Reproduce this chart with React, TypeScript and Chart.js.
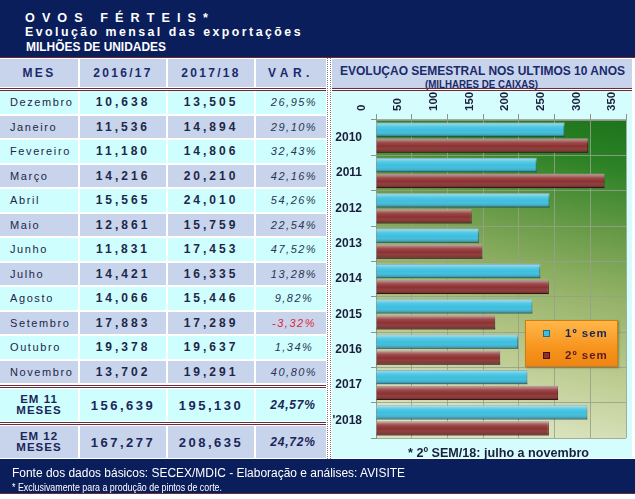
import React, { useEffect, useLayoutEffect, useRef } from "react";
import { Chart, registerables } from "chart.js";
Chart.register(...registerables);

// ---- data ----
const years = ["2010", "2011", "2012", "2013", "2014", "2015", "2016", "2017", "'2018"];
const sem1 = [264, 225, 243, 144, 230, 219, 199, 212, 296];
const sem2 = [297, 320, 134, 149, 242, 167, 174, 255, 242];
const xMin = 0;
const xMax = 350;
const xStep = 50;

const months = ["Dezembro", "Janeiro", "Fevereiro", "Março", "Abril", "Maio", "Junho", "Julho", "Agosto", "Setembro", "Outubro", "Novembro"];
const v1617 = [10.638, 11.536, 11.18, 14.216, 15.565, 12.861, 11.831, 14.421, 14.066, 17.883, 19.378, 13.702];
const v1718 = [13.505, 14.894, 14.806, 20.21, 24.01, 15.759, 17.453, 16.335, 15.446, 17.289, 19.637, 19.291];
const varPct = [26.95, 29.1, 32.43, 42.16, 54.26, 22.54, 47.52, 13.28, 9.82, -3.32, 1.34, 40.8];
const total11 = [156.639, 195.13, 24.57];
const total12 = [167.277, 208.635, 24.72];
const colHeaders = ["MES", "2016/17", "2017/18", "VAR."];

const SANS = '"Liberation Sans", Arial, sans-serif';
const NAVY = "#0b1e5c";
const CYAN = "#cffefe";
const LAV = "#c7d4ec";
const TXT = "#1d2748";
const MAROON = "#6e2a36";

const fmt3 = (v: number) => v.toFixed(3).replace(".", ",");
const fmtPct = (v: number) => v.toFixed(2).replace(".", ",") + "%";

const cols = [
  { x: 0, w: 78 },
  { x: 80, w: 86 },
  { x: 168, w: 86 },
  { x: 256, w: 70 },
];

function abs(x: number, y: number, w: number, h: number, extra: React.CSSProperties = {}): React.CSSProperties {
  return { position: "absolute", left: x, top: y, width: w, height: h, ...extra };
}

// text squeezed horizontally to a target width (narrow fonts are not installed)
function FitText({ left, top, width, style, children }: { left: number; top: number; width: number; style: React.CSSProperties; children: React.ReactNode }) {
  const ref = useRef<HTMLSpanElement>(null);
  useLayoutEffect(() => {
    const el = ref.current!;
    el.style.transform = "none";
    const w = el.getBoundingClientRect().width;
    if (w > 0) el.style.transform = `scaleX(${width / w})`;
  }, [width]);
  return (
    <div style={{ position: "absolute", left, top, whiteSpace: "nowrap" }}>
      <span ref={ref} style={{ display: "inline-block", transformOrigin: "left top", ...style }}>
        {children}
      </span>
    </div>
  );
}

function DoubleLine({ x, y, w }: { x: number; y: number; w: number }) {
  return (
    <>
      <div style={abs(x, y, w, 1, { background: MAROON })} />
      <div style={abs(x, y + 2, w, 1, { background: MAROON })} />
    </>
  );
}

function ChartPanel() {
  const ref = useRef<HTMLCanvasElement>(null);
  useEffect(() => {
    const canvas = ref.current!;
    const bgPlugin = {
      id: "plotBg",
      beforeDraw(chart: any) {
        const { ctx, chartArea: a } = chart;
        const g = ctx.createLinearGradient(a.right, a.top, a.right - 70, a.bottom);
        g.addColorStop(0, "#1d741b");
        g.addColorStop(0.15, "#2d8226");
        g.addColorStop(0.35, "#679a46");
        g.addColorStop(0.55, "#95b368");
        g.addColorStop(0.78, "#bccb90");
        g.addColorStop(1, "#dbe3be");
        ctx.save();
        ctx.fillStyle = g;
        ctx.fillRect(a.left, a.top, a.right - a.left, a.bottom - a.top);
        ctx.restore();
      },
    };
    const shinePlugin = {
      id: "barShine",
      afterDatasetsDraw(chart: any) {
        const ctx = chart.ctx;
        ctx.save();
        chart.data.datasets.forEach((_ds: any, di: number) => {
          const meta = chart.getDatasetMeta(di);
          meta.data.forEach((el: any) => {
            const { x, y, base, height } = el.getProps(["x", "y", "base", "height"], true);
            const top = y - height / 2;
            const g = ctx.createLinearGradient(0, top, 0, top + height);
            g.addColorStop(0, "rgba(255,255,255,0.55)");
            g.addColorStop(0.3, "rgba(255,255,255,0.12)");
            g.addColorStop(0.55, "rgba(255,255,255,0)");
            g.addColorStop(1, "rgba(0,0,0,0.35)");
            ctx.fillStyle = g;
            ctx.fillRect(Math.min(base, x), top, Math.abs(x - base), height);
          });
        });
        ctx.restore();
      },
    };
    const chart = new Chart(canvas, {
      type: "bar",
      data: {
        labels: years,
        datasets: [
          {
            label: "1º sem",
            data: sem1,
            backgroundColor: "#3bbfdf",
            borderColor: "#1e6f88",
            borderWidth: 1,
            categoryPercentage: 0.9,
            barPercentage: 0.9,
          },
          {
            label: "2º sem",
            data: sem2,
            backgroundColor: "#8c3030",
            borderColor: "#4a1212",
            borderWidth: 1,
            categoryPercentage: 0.9,
            barPercentage: 0.9,
          },
        ],
      },
      options: {
        indexAxis: "y",
        responsive: false,
        maintainAspectRatio: false,
        animation: false,
        layout: { padding: { left: 0, right: 6, top: 0, bottom: 20 } },
        plugins: { legend: { display: false }, tooltip: { enabled: false } },
        scales: {
          x: {
            position: "top",
            min: xMin,
            max: xMax,
            ticks: {
              stepSize: xStep,
              minRotation: 90,
              maxRotation: 90,
              padding: 3,
              color: "#1a1f3c",
              font: { family: SANS, size: 11.5, weight: "bold" },
            },
            grid: { color: "rgba(150,160,140,0.85)", tickLength: 6, tickColor: "#8d948a" },
            border: { color: "#8d948a" },
            afterFit: (s: any) => {
              s.height = 29;
            },
          },
          y: {
            ticks: {
              padding: 9,
              color: "#1a1f3c",
              font: { family: SANS, size: 12, weight: "bold" },
            },
            grid: { color: "rgba(150,160,140,0.85)", tickLength: 5, tickColor: "#8d948a" },
            border: { color: "#8d948a" },
            afterFit: (s: any) => {
              s.width = 44;
            },
          },
        },
      } as any,
      plugins: [bgPlugin, shinePlugin],
    });
    return () => chart.destroy();
  }, []);
  return <canvas ref={ref} width={300} height={367} style={{ position: "absolute", left: 332, top: 91, width: 300, height: 367 }} />;
}

export default function App() {
  const rowTop = (i: number) => 91 + i * 24.5;
  return (
    <div style={{ position: "absolute", left: 0, top: 0, width: 635, height: 499, background: "#fff", fontFamily: SANS, overflow: "hidden" }}>
      {/* header */}
      <div style={abs(0, 0, 635, 58, { background: NAVY })} />
      <div style={abs(0, 57, 635, 1, { background: MAROON })} />
      <FitText left={25} top={8} width={190} style={{ color: "#fff", fontWeight: "bold", fontSize: 12.5, lineHeight: "14px", letterSpacing: 7 }}>OVOS FÉRTEIS*</FitText>
      <FitText left={25} top={21.5} width={278} style={{ color: "#fff", fontWeight: "bold", fontSize: 12.5, lineHeight: "14px", letterSpacing: 2.5 }}>Evolução mensal das exportações</FitText>
      <FitText left={26} top={37} width={140} style={{ color: "#fff", fontWeight: "bold", fontSize: 12.5, lineHeight: "14px" }}>MILHÕES DE UNIDADES</FitText>

      {/* table header */}
      {colHeaders.map((h, i) => (
        <div key={h} style={abs(cols[i].x, 59, cols[i].w, 28, { background: LAV, display: "flex", alignItems: "center", justifyContent: "center", color: "#1b2a6b", fontWeight: "bold", fontSize: 12, letterSpacing: h === "VAR." ? 4.5 : 2.3, whiteSpace: "nowrap" })}>
          {h}
        </div>
      ))}
      <DoubleLine x={0} y={88} w={326} />

      {/* month rows */}
      {months.map((m, i) => {
        const bg = i % 2 === 0 ? CYAN : LAV;
        const t = rowTop(i);
        const cell = (c: number, extra: React.CSSProperties) => abs(cols[c].x, t, cols[c].w, 22.5, { background: bg, display: "flex", alignItems: "center", whiteSpace: "nowrap", ...extra });
        return (
          <React.Fragment key={m}>
            <div style={cell(0, { paddingLeft: 10, boxSizing: "border-box", color: TXT, fontSize: 11, letterSpacing: 1.6 })}>{m}</div>
            <div style={cell(1, { justifyContent: "center", color: TXT, fontSize: 12, fontWeight: "bold", letterSpacing: 3 })}>{fmt3(v1617[i])}</div>
            <div style={cell(2, { justifyContent: "center", color: TXT, fontSize: 12, fontWeight: "bold", letterSpacing: 3 })}>{fmt3(v1718[i])}</div>
            <div style={cell(3, { justifyContent: "center", paddingLeft: 6, boxSizing: "border-box", color: varPct[i] < 0 ? "#e3262e" : "#2a3552", fontSize: 11, fontStyle: "italic", letterSpacing: 1.5 })}>{fmtPct(varPct[i])}</div>
          </React.Fragment>
        );
      })}

      {/* totals */}
      {[
        { label: ["EM 11", "MESES"], vals: total11, top: 389, h: 32, bg: CYAN, dl: 385 },
        { label: ["EM 12", "MESES"], vals: total12, top: 426, h: 32, bg: LAV, dl: 422 },
      ].map((r) => {
        const cell = (c: number, extra: React.CSSProperties) => abs(cols[c].x, r.top, cols[c].w, r.h, { background: r.bg, display: "flex", alignItems: "center", justifyContent: "center", whiteSpace: "nowrap", color: "#1b2658", fontWeight: "bold", ...extra });
        return (
          <React.Fragment key={r.label[0]}>
            <DoubleLine x={0} y={r.dl} w={326} />
            <div style={cell(0, { flexDirection: "column", fontSize: 11.5, lineHeight: "11px", letterSpacing: 1 })}>
              <span>{r.label[0]}</span>
              <span>{r.label[1]}</span>
            </div>
            <div style={cell(1, { fontSize: 13, letterSpacing: 2.5 })}>{fmt3(r.vals[0])}</div>
            <div style={cell(2, { fontSize: 13, letterSpacing: 2.5 })}>{fmt3(r.vals[1])}</div>
            <div style={cell(3, { fontSize: 12, fontStyle: "italic", letterSpacing: 0.8, paddingLeft: 4, boxSizing: "border-box" })}>{fmtPct(r.vals[2])}</div>
          </React.Fragment>
        );
      })}

      {/* zigzag divider */}
      <div style={abs(327, 58, 1, 401, { borderLeft: "1px dotted #777" })} />
      <div style={abs(330, 58, 1, 401, { borderLeft: "1px dotted #777" })} />

      {/* right panel */}
      <div style={abs(332, 59, 300, 29, { background: LAV })} />
      <FitText left={340} top={60.5} width={285} style={{ fontWeight: "bold", fontSize: 12.5, lineHeight: "14px", color: "#1b2a6b" }}>EVOLUÇAO SEMESTRAL NOS ULTIMOS 10 ANOS</FitText>
      <FitText left={425} top={74} width={113} style={{ fontWeight: "bold", fontSize: 10.5, lineHeight: "12px", color: "#1b2a6b" }}>(MILHARES DE CAIXAS)</FitText>
      <DoubleLine x={332} y={88} w={300} />
      <div style={abs(332, 91, 300, 367, { background: "#d6fdfd" })} />
      <ChartPanel />
      <FitText left={408} top={443} width={181} style={{ fontWeight: "bold", fontSize: 12, lineHeight: "14px", color: "#1a1f3c" }}>* 2º SEM/18: julho a novembro</FitText>

      {/* legend */}
      <div style={abs(525, 320, 93, 47, { background: "linear-gradient(180deg, #ffb84a 0%, #f7941d 60%, #ee8612 100%)", border: "1px solid #d67a10", boxSizing: "border-box", boxShadow: "1px 1px 2px rgba(0,0,0,0.3)" })}>
        <div style={abs(17, 9, 7, 7, { background: "#3bbfdf", border: "1px solid #1e6f88", boxSizing: "border-box" })} />
        <div style={abs(39, 5, 60, 14, { fontWeight: "bold", fontSize: 11.5, lineHeight: "14px", letterSpacing: 1, color: "#1b2658", whiteSpace: "nowrap" })}>1º sem</div>
        <div style={abs(17, 31, 7, 7, { background: "#8c3030", border: "1px solid #4a1212", boxSizing: "border-box" })} />
        <div style={abs(39, 27, 60, 14, { fontWeight: "bold", fontSize: 11.5, lineHeight: "14px", letterSpacing: 1, color: "#5e1a1e", whiteSpace: "nowrap" })}>2º sem</div>
      </div>

      {/* footer */}
      <div style={abs(0, 459, 635, 34, { background: NAVY })} />
      <div style={abs(0, 493, 635, 1, { background: MAROON })} />
      <FitText left={12} top={463} width={393} style={{ color: "#fff", fontSize: 12, lineHeight: "14px" }}>Fonte dos dados básicos: SECEX/MDIC - Elaboração e análises: AVISITE</FitText>
      <FitText left={12} top={477} width={210} style={{ color: "#fff", fontSize: 11.5, lineHeight: "13px" }}>* Exclusivamente para a produção de pintos de corte.</FitText>
    </div>
  );
}
